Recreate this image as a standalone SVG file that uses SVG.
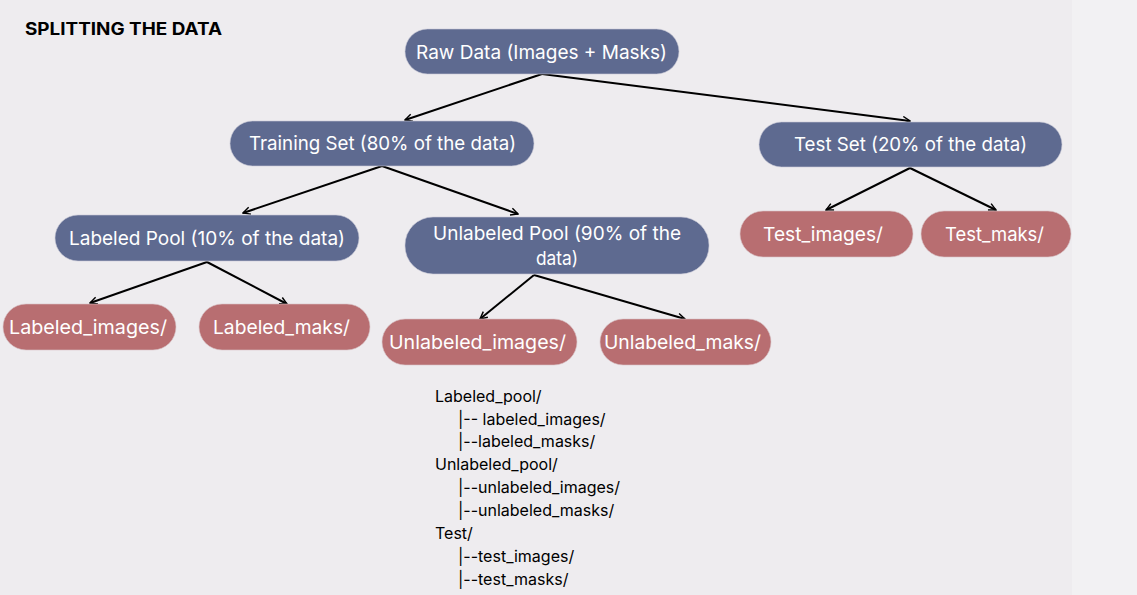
<svg xmlns="http://www.w3.org/2000/svg" width="1137" height="595" viewBox="0 0 1137 595">
<defs>
<marker id="arr" viewBox="0 0 10 10" refX="9" refY="5" markerWidth="9" markerHeight="9" markerUnits="userSpaceOnUse" orient="auto">
<path d="M1,1 L9,5 L1,9" fill="none" stroke="#000" stroke-width="1.6"/>
</marker>
<style>
.blue{fill:#5E6A90;stroke:#c9cad6;stroke-width:0.6}
.red{fill:#B86E71;stroke:#d8c4c8;stroke-width:0.6}
.nt{font-family:Inter,"Noto Sans","Liberation Sans",sans-serif;font-size:19px;fill:#fff;text-anchor:middle;dominant-baseline:central}
.edge{stroke:#000;stroke-width:2;fill:none;marker-end:url(#arr)}
.tree{font-family:Inter,"Noto Sans","Liberation Sans",sans-serif;font-size:16px;fill:#000}
</style>
</defs>
<rect x="0" y="0" width="1137" height="595" fill="#EEECEF"/>
<rect x="1072" y="0" width="65" height="595" fill="#F2F1F3"/>
<text x="25" y="35" style="font-family:Inter,'Liberation Sans',sans-serif;font-size:17px;font-weight:bold;fill:#000" textLength="197" lengthAdjust="spacingAndGlyphs">SPLITTING THE DATA</text>
<g id="connectors">
<line class="edge" x1="542" y1="74" x2="405" y2="120"/>
<line class="edge" x1="542" y1="74" x2="910" y2="121"/>
<line class="edge" x1="382" y1="166" x2="243" y2="213"/>
<line class="edge" x1="382" y1="166" x2="518" y2="214"/>
<line class="edge" x1="207" y1="262" x2="90" y2="303"/>
<line class="edge" x1="207" y1="262" x2="287" y2="304"/>
<line class="edge" x1="534" y1="275" x2="480" y2="319"/>
<line class="edge" x1="534" y1="275" x2="685" y2="319"/>
<line class="edge" x1="910" y1="168" x2="826" y2="210"/>
<line class="edge" x1="910" y1="168" x2="996" y2="210"/>
</g>
<g id="raw">
<rect class="blue" x="405" y="29" width="274" height="45" rx="22.5"/>
<text class="nt" x="541.5" y="52" textLength="251" lengthAdjust="spacingAndGlyphs">Raw Data (Images + Masks)</text>
</g>
<g id="training">
<rect class="blue" x="230" y="121" width="304" height="45" rx="22.5"/>
<text class="nt" x="382.5" y="143" textLength="267" lengthAdjust="spacingAndGlyphs">Training Set (80% of the data)</text>
</g>
<g id="test">
<rect class="blue" x="759" y="122" width="303" height="45" rx="22.5"/>
<text class="nt" x="910.5" y="144" textLength="233" lengthAdjust="spacingAndGlyphs">Test Set (20% of the data)</text>
</g>
<g id="labeled-pool">
<rect class="blue" x="55" y="215" width="304" height="46" rx="23"/>
<text class="nt" x="207" y="238" textLength="276" lengthAdjust="spacingAndGlyphs">Labeled Pool (10% of the data)</text>
</g>
<g id="unlabeled-pool">
<rect class="blue" x="405" y="217" width="304" height="57" rx="28"/>
<text class="nt" x="557" y="233" textLength="248" lengthAdjust="spacingAndGlyphs">Unlabeled Pool (90% of the</text>
<text class="nt" x="557" y="258" textLength="42" lengthAdjust="spacingAndGlyphs">data)</text>
</g>
<g id="labeled-images">
<rect class="red" x="3" y="304" width="173" height="46" rx="23"/>
<text class="nt" x="88" y="327" textLength="158" lengthAdjust="spacingAndGlyphs">Labeled_images/</text>
</g>
<g id="labeled-maks">
<rect class="red" x="199" y="304" width="171" height="46" rx="23"/>
<text class="nt" x="281.5" y="327" textLength="137" lengthAdjust="spacingAndGlyphs">Labeled_maks/</text>
</g>
<g id="unlabeled-images">
<rect class="red" x="382" y="319" width="195" height="46" rx="23"/>
<text class="nt" x="477.5" y="342" textLength="177" lengthAdjust="spacingAndGlyphs">Unlabeled_images/</text>
</g>
<g id="unlabeled-maks">
<rect class="red" x="600" y="319" width="171" height="46" rx="23"/>
<text class="nt" x="682.5" y="342" textLength="157" lengthAdjust="spacingAndGlyphs">Unlabeled_maks/</text>
</g>
<g id="test-images">
<rect class="red" x="740" y="211" width="173" height="46" rx="23"/>
<text class="nt" x="823" y="234" textLength="120" lengthAdjust="spacingAndGlyphs">Test_images/</text>
</g>
<g id="test-maks">
<rect class="red" x="921" y="211" width="150" height="46" rx="23"/>
<text class="nt" x="994.5" y="234" textLength="99" lengthAdjust="spacingAndGlyphs">Test_maks/</text>
</g>
<g id="folder-tree" class="tree">
<text x="435" y="402">Labeled_pool/</text>
<text x="458" y="425">|-- labeled_images/</text>
<text x="458" y="447">|--labeled_masks/</text>
<text x="435" y="470">Unlabeled_pool/</text>
<text x="458" y="493">|--unlabeled_images/</text>
<text x="458" y="516">|--unlabeled_masks/</text>
<text x="435" y="539">Test/</text>
<text x="458" y="562">|--test_images/</text>
<text x="458" y="585">|--test_masks/</text>
</g>
</svg>
